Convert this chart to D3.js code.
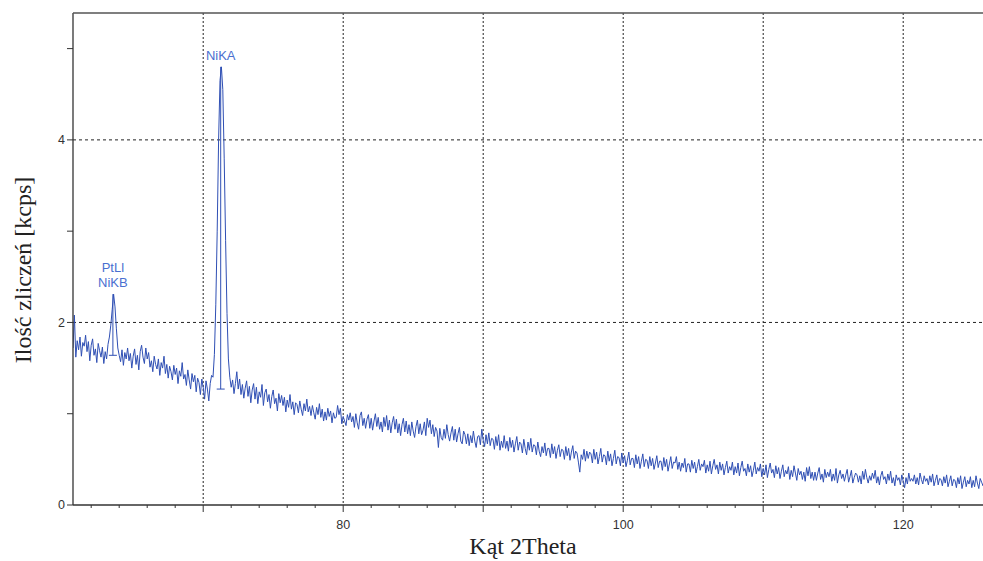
<!DOCTYPE html>
<html>
<head>
<meta charset="utf-8">
<script src="https://cdn.jsdelivr.net/npm/d3@7"></script>
<style>
  body { margin: 0; background: #fff; }
  svg { display: block; }
</style>
</head>
<body>
<svg id="chart"></svg>
<script>
// spectrum: counts [kcps] sampled every 0.1 deg starting at 60.7 deg 2Theta
const angleStart = 60.7;
const angleStep = 0.1;
const counts = [
  1.72, 2.08, 1.62, 1.80, 1.70, 1.84, 1.63, 1.78, 1.74, 1.86, // 60.7
  1.68, 1.79, 1.58, 1.75, 1.82, 1.64, 1.71, 1.56, 1.77, 1.69,
  1.62, 1.73, 1.55, 1.68, 1.60, 1.76, 1.84, 1.97, 2.14, 2.31,
  2.17, 1.93, 1.72, 1.64, 1.57, 1.70, 1.53, 1.67, 1.60, 1.72,
  1.58, 1.66, 1.50, 1.63, 1.71, 1.54, 1.64, 1.48, 1.68, 1.75,
  1.62, 1.55, 1.72, 1.60, 1.67, 1.51, 1.58, 1.46, 1.63, 1.54, // 65.7
  1.49, 1.60, 1.42, 1.56, 1.50, 1.63, 1.44, 1.54, 1.39, 1.52,
  1.46, 1.37, 1.53, 1.43, 1.50, 1.33, 1.47, 1.41, 1.56, 1.38,
  1.43, 1.31, 1.48, 1.37, 1.27, 1.44, 1.35, 1.42, 1.24, 1.39,
  1.34, 1.21, 1.38, 1.29, 1.16, 1.36, 1.27, 1.14, 1.33, 1.42,
  1.40, 1.65, 2.20, 3.00, 4.00, 4.65, 4.80, 4.55, 3.80, 2.90, // 70.7
  2.10, 1.60, 1.40, 1.29, 1.37, 1.22, 1.33, 1.46, 1.27, 1.38,
  1.21, 1.32, 1.17, 1.28, 1.36, 1.19, 1.30, 1.12, 1.26, 1.33,
  1.16, 1.29, 1.11, 1.24, 1.18, 1.32, 1.09, 1.23, 1.27, 1.13,
  1.21, 1.06, 1.19, 1.26, 1.11, 1.17, 1.03, 1.22, 1.12, 1.20,
  1.09, 1.18, 1.02, 1.15, 1.07, 1.21, 1.05, 1.13, 0.99, 1.12, // 75.7
  1.10, 1.01, 1.14, 1.05, 0.98, 1.11, 1.03, 1.16, 1.02, 1.08,
  0.98, 1.09, 1.01, 0.94, 1.07, 0.99, 1.11, 0.96, 1.05, 0.92,
  1.02, 0.93, 1.06, 0.97, 1.03, 0.90, 1.01, 0.95, 0.96, 1.09,
  0.99, 1.06, 0.89, 0.97, 0.92, 0.87, 0.99, 0.93, 1.01, 0.91,
  0.97, 0.85, 1.00, 0.90, 0.83, 0.98, 1.02, 0.87, 0.95, 0.84, // 80.7
  0.94, 0.99, 0.84, 0.95, 0.82, 0.92, 1.00, 0.86, 0.96, 0.83,
  0.91, 0.80, 0.96, 0.86, 0.98, 0.82, 0.93, 0.79, 0.90, 0.97,
  0.83, 0.94, 0.79, 0.89, 0.76, 0.88, 0.95, 0.80, 0.92, 0.78,
  0.88, 0.76, 0.91, 0.81, 0.74, 0.86, 0.93, 0.78, 0.89, 0.77,
  0.82, 0.91, 0.76, 0.95, 0.85, 0.93, 0.78, 0.88, 0.75, 0.85, // 85.7
  0.81, 0.63, 0.84, 0.74, 0.71, 0.83, 0.73, 0.88, 0.77, 0.70,
  0.79, 0.86, 0.71, 0.83, 0.69, 0.78, 0.85, 0.70, 0.67, 0.81,
  0.77, 0.67, 0.78, 0.65, 0.76, 0.68, 0.81, 0.70, 0.63, 0.75,
  0.76, 0.66, 0.83, 0.71, 0.64, 0.77, 0.67, 0.79, 0.65, 0.73,
  0.72, 0.61, 0.75, 0.65, 0.77, 0.60, 0.70, 0.63, 0.76, 0.62, // 90.7
  0.70, 0.59, 0.74, 0.63, 0.71, 0.58, 0.67, 0.75, 0.60, 0.69,
  0.67, 0.57, 0.72, 0.62, 0.55, 0.69, 0.60, 0.73, 0.58, 0.66,
  0.65, 0.55, 0.69, 0.59, 0.53, 0.64, 0.57, 0.68, 0.54, 0.62,
  0.62, 0.52, 0.67, 0.56, 0.64, 0.51, 0.60, 0.66, 0.53, 0.61,
  0.60, 0.50, 0.64, 0.54, 0.62, 0.49, 0.58, 0.65, 0.51, 0.59, // 95.7
  0.57, 0.47, 0.36, 0.55, 0.50, 0.61, 0.48, 0.59, 0.51, 0.58,
  0.56, 0.46, 0.61, 0.50, 0.58, 0.45, 0.53, 0.62, 0.47, 0.55,
  0.54, 0.44, 0.59, 0.48, 0.56, 0.43, 0.51, 0.60, 0.45, 0.53,
  0.52, 0.43, 0.57, 0.46, 0.54, 0.42, 0.49, 0.58, 0.44, 0.51,
  0.51, 0.41, 0.55, 0.45, 0.53, 0.40, 0.48, 0.56, 0.42, 0.50, // 100.7
  0.49, 0.40, 0.53, 0.43, 0.51, 0.39, 0.46, 0.54, 0.41, 0.48,
  0.48, 0.38, 0.52, 0.42, 0.50, 0.37, 0.45, 0.53, 0.40, 0.47,
  0.46, 0.53, 0.39, 0.47, 0.37, 0.46, 0.41, 0.51, 0.36, 0.45,
  0.45, 0.36, 0.49, 0.40, 0.47, 0.35, 0.42, 0.50, 0.38, 0.45,
  0.42, 0.49, 0.35, 0.44, 0.37, 0.48, 0.34, 0.43, 0.50, 0.39, // 105.7
  0.44, 0.34, 0.47, 0.38, 0.45, 0.33, 0.41, 0.48, 0.35, 0.42,
  0.38, 0.47, 0.33, 0.42, 0.35, 0.46, 0.32, 0.41, 0.48, 0.37,
  0.40, 0.32, 0.45, 0.36, 0.43, 0.31, 0.38, 0.47, 0.34, 0.41,
  0.37, 0.45, 0.31, 0.40, 0.33, 0.44, 0.30, 0.39, 0.46, 0.35,
  0.39, 0.30, 0.43, 0.34, 0.41, 0.29, 0.37, 0.44, 0.31, 0.38, // 110.7
  0.34, 0.42, 0.28, 0.38, 0.31, 0.43, 0.35, 0.27, 0.40, 0.33,
  0.37, 0.28, 0.36, 0.26, 0.41, 0.32, 0.42, 0.29, 0.36, 0.27,
  0.36, 0.27, 0.35, 0.41, 0.28, 0.34, 0.25, 0.39, 0.30, 0.36,
  0.31, 0.39, 0.26, 0.34, 0.27, 0.40, 0.24, 0.33, 0.38, 0.29,
  0.34, 0.26, 0.33, 0.39, 0.25, 0.31, 0.38, 0.24, 0.30, 0.35, // 115.7
  0.33, 0.25, 0.32, 0.23, 0.37, 0.28, 0.39, 0.30, 0.24, 0.32,
  0.27, 0.35, 0.29, 0.38, 0.24, 0.31, 0.22, 0.32, 0.37, 0.28,
  0.31, 0.23, 0.34, 0.27, 0.37, 0.24, 0.30, 0.21, 0.33, 0.27,
  0.30, 0.22, 0.33, 0.26, 0.19, 0.30, 0.23, 0.35, 0.26, 0.29,
  0.26, 0.33, 0.23, 0.30, 0.22, 0.35, 0.28, 0.23, 0.32, 0.26, // 120.7
  0.29, 0.22, 0.32, 0.25, 0.34, 0.21, 0.27, 0.33, 0.22, 0.29,
  0.28, 0.21, 0.31, 0.24, 0.33, 0.20, 0.26, 0.32, 0.21, 0.28,
  0.27, 0.19, 0.30, 0.23, 0.32, 0.18, 0.25, 0.31, 0.20, 0.27,
  0.23, 0.31, 0.19, 0.27, 0.20, 0.32, 0.24, 0.18, 0.29, 0.25,
  0.21, 0.27                                                  // 125.7
];

// identified lines: label rows, position, top of peak, foot of marker
const peakLabels = [["PtLl", "NiKB"], ["NiKA"]];
const peakAngles = [63.55, 71.25];
const peakTops = [2.31, 4.80];
const peakFeet = [1.64, 1.27];

const xGridTicks = [70, 80, 90, 100, 110, 120];
const xLabelTicks = [80, 100, 120];
const xMinorTicks = d3.range(62, 126, 2);
const yTicks = [0, 1, 2, 3, 4, 5];
const yLabelTicks = [0, 2, 4];
const yGridTicks = [2, 4];

const width = 983, height = 561;
const margin = {top: 13, right: 0, bottom: 56, left: 73};
const lineColor = '#2f4fb4';
const noteColor = '#4a6fd0';

const svg = d3.select('#chart')
  .attr('width', width)
  .attr('height', height);

const x = d3.scaleLinear()
  .domain([60.7, 125.7])
  .range([margin.left, width - margin.right]);

const y = d3.scaleLinear()
  .domain([0, 5.39])
  .range([height - margin.bottom, margin.top]);

svg.append('defs').append('clipPath')
  .attr('id', 'plot-clip')
  .append('rect')
  .attr('x', margin.left)
  .attr('y', margin.top)
  .attr('width', width - margin.left - margin.right)
  .attr('height', height - margin.top - margin.bottom);

// grid
svg.append('g')
  .selectAll('line')
  .data(xGridTicks)
  .join('line')
  .attr('x1', d => x(d)).attr('x2', d => x(d))
  .attr('y1', y.range()[1]).attr('y2', y.range()[0])
  .attr('stroke', '#222')
  .attr('stroke-width', 1)
  .attr('stroke-dasharray', '2,2');

svg.append('g')
  .selectAll('line')
  .data(yGridTicks)
  .join('line')
  .attr('x1', x.range()[0]).attr('x2', x.range()[1])
  .attr('y1', d => y(d)).attr('y2', d => y(d))
  .attr('stroke', '#222')
  .attr('stroke-width', 1)
  .attr('stroke-dasharray', '3,3');

// spectrum
const points = counts.map((c, i) => [angleStart + i * angleStep, c]);

svg.append('path')
  .datum(points)
  .attr('clip-path', 'url(#plot-clip)')
  .attr('fill', 'none')
  .attr('stroke', lineColor)
  .attr('stroke-width', 1)
  .attr('stroke-linejoin', 'round')
  .attr('d', d3.line().x(d => x(d[0])).y(d => y(d[1])));

// peak markers
const peaks = peakAngles.map((a, i) => ({
  angle: a, top: peakTops[i], foot: peakFeet[i], labels: peakLabels[i]
}));

const marks = svg.append('g').selectAll('g')
  .data(peaks)
  .join('g');

marks.append('line')
  .attr('x1', d => x(d.angle)).attr('x2', d => x(d.angle))
  .attr('y1', d => y(d.top)).attr('y2', d => y(d.foot))
  .attr('stroke', lineColor)
  .attr('stroke-width', 1);

marks.append('line')
  .attr('x1', d => x(d.angle) - 4).attr('x2', d => x(d.angle) + 4)
  .attr('y1', d => y(d.foot)).attr('y2', d => y(d.foot))
  .attr('stroke', lineColor)
  .attr('stroke-width', 1);

marks.each(function (d) {
  const n = d.labels.length;
  d3.select(this).selectAll('text')
    .data(d.labels)
    .join('text')
    .attr('x', x(d.angle))
    .attr('y', (t, i) => y(d.top) - 7 - (n - 1 - i) * 15)
    .attr('text-anchor', 'middle')
    .style('font', '13px Arial, "Liberation Sans", sans-serif')
    .style('fill', noteColor)
    .text(t => t);
});

// axes
const axisFont = '12.5px Arial, "Liberation Sans", sans-serif';

const xAxis = svg.append('g')
  .attr('transform', `translate(0, ${y(0)})`);

xAxis.selectAll('.minor')
  .data(xMinorTicks)
  .join('line')
  .attr('x1', d => x(d)).attr('x2', d => x(d))
  .attr('y1', 0)
  .attr('y2', d => d % 10 === 0 ? 7 : 3)
  .attr('stroke', '#333');

xAxis.append('line')
  .attr('x1', x.range()[0]).attr('x2', x.range()[1])
  .attr('stroke', '#333')
  .attr('stroke-width', 1.3);

xAxis.selectAll('text')
  .data(xLabelTicks)
  .join('text')
  .attr('x', d => x(d))
  .attr('y', 24)
  .attr('text-anchor', 'middle')
  .style('font', axisFont)
  .style('fill', '#333')
  .text(d => d);

const yAxis = svg.append('g')
  .attr('transform', `translate(${x.range()[0]}, 0)`);

yAxis.selectAll('line.tick')
  .data(yTicks)
  .join('line')
  .attr('class', 'tick')
  .attr('x1', -6).attr('x2', 0)
  .attr('y1', d => y(d)).attr('y2', d => y(d))
  .attr('stroke', '#333');

yAxis.append('line')
  .attr('y1', y.range()[0]).attr('y2', y.range()[1])
  .attr('stroke', '#333')
  .attr('stroke-width', 1.3);

yAxis.selectAll('text')
  .data(yLabelTicks)
  .join('text')
  .attr('x', -8)
  .attr('y', d => y(d))
  .attr('dy', '0.35em')
  .attr('text-anchor', 'end')
  .style('font', axisFont)
  .style('fill', '#333')
  .text(d => d);

// frame top
svg.append('line')
  .attr('x1', x.range()[0]).attr('x2', x.range()[1])
  .attr('y1', y.range()[1]).attr('y2', y.range()[1])
  .attr('stroke', '#555')
  .attr('stroke-width', 1.3);

// titles
svg.append('text')
  .attr('x', 523)
  .attr('y', 554)
  .attr('text-anchor', 'middle')
  .style('font', '24px "Liberation Serif", "Times New Roman", serif')
  .style('fill', '#222')
  .text('Kąt 2Theta');

svg.append('text')
  .attr('transform', `translate(31, 270) rotate(-90)`)
  .attr('text-anchor', 'middle')
  .style('font', '24px "Liberation Serif", "Times New Roman", serif')
  .style('fill', '#222')
  .text('Ilość zliczeń [kcps]');
</script>
</body>
</html>
